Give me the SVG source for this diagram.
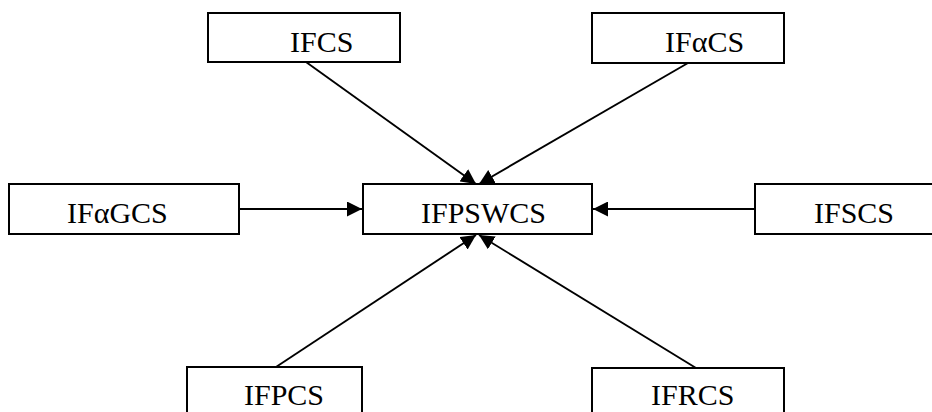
<svg xmlns="http://www.w3.org/2000/svg" width="932" height="412" viewBox="0 0 932 412">
<style>
.box{fill:#fff;stroke:#000;stroke-width:2}
.lbl{font-family:"Liberation Serif","Times New Roman",serif;font-size:30px;fill:#000}
.con{stroke:#000;stroke-width:1.9;fill:none}
</style>
<defs>
<marker id="ah" markerUnits="userSpaceOnUse" markerWidth="16" markerHeight="15" refX="15" refY="7.5" orient="auto">
<path d="M0,0 L15,7.5 L0,15 Z" fill="#000"/>
</marker>
</defs>
<rect width="932" height="412" fill="#fff"/>
<g id="IFCS"><rect class="box" x="208" y="13" width="192" height="49"/><text class="lbl" x="290" y="52">IFCS</text></g>
<g id="IFaCS"><rect class="box" x="592" y="13" width="192" height="50"/><text class="lbl" x="665" y="52">IFαCS</text></g>
<g id="IFaGCS"><rect class="box" x="9" y="184" width="230" height="50"/><text class="lbl" x="67" y="223">IFαGCS</text></g>
<g id="IFPSWCS"><rect class="box" x="363" y="184" width="229" height="50"/><text class="lbl" x="421" y="223">IFPSWCS</text></g>
<g id="IFSCS"><rect class="box" x="755" y="184" width="230" height="50"/><text class="lbl" x="814" y="223">IFSCS</text></g>
<g id="IFPCS"><rect class="box" x="187" y="367" width="175" height="60"/><text class="lbl" x="244" y="405">IFPCS</text></g>
<g id="IFRCS"><rect class="box" x="592" y="368" width="192" height="60"/><text class="lbl" x="651" y="405">IFRCS</text></g>
<g id="connectors">
<line class="con" x1="306" y1="62" x2="476" y2="184" marker-end="url(#ah)"/>
<line class="con" x1="688" y1="63" x2="479" y2="184" marker-end="url(#ah)"/>
<line class="con" x1="239" y1="209" x2="362" y2="209" marker-end="url(#ah)"/>
<line class="con" x1="755" y1="209" x2="593" y2="209" marker-end="url(#ah)"/>
<line class="con" x1="276" y1="367" x2="476" y2="235" marker-end="url(#ah)"/>
<line class="con" x1="696" y1="368" x2="479" y2="235" marker-end="url(#ah)"/>
</g>
</svg>
